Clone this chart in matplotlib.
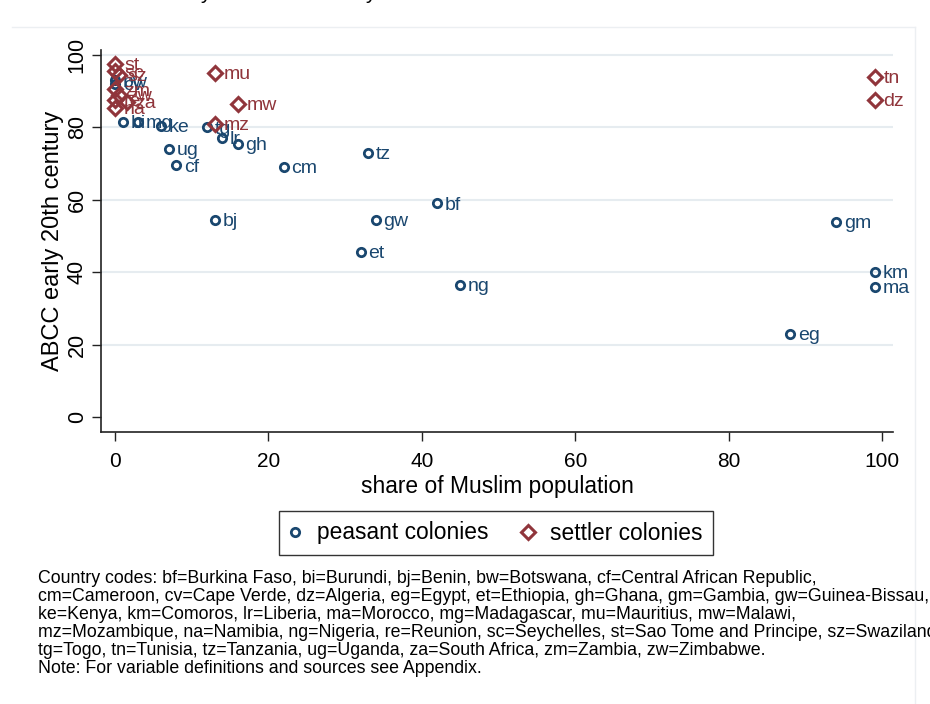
import matplotlib
matplotlib.use('Agg')
import matplotlib.pyplot as plt
from matplotlib.lines import Line2D

plt.rcParams['font.family'] = ['Liberation Sans', 'DejaVu Sans']

# peasant colonies (navy circles)
peasant_code = ['bf', 'gm', 'km', 'ma', 'eg', 'ng', 'et', 'gw', 'tz', 'cm', 'bj', 'gh',
                'lr', 'tg', 'ug', 'cf', 'bi', 'mg', 'ke', 'bw', 'cv']
peasant_muslim = [42, 94, 99, 99, 88, 45, 32, 34, 33, 22, 13, 16,
                  14, 12, 7, 8, 1, 3, 6, 0, 0]
peasant_abcc = [59, 54, 40, 36, 23, 36.5, 45.5, 54.5, 73, 69, 54.5, 75.5,
                77, 80, 74, 69.5, 81.5, 81.5, 80.5, 93, 92]

# settler colonies (maroon diamonds)
settler_code = ['st', 'sc', 'sz', 'zm', 'zw', 're', 'za', 'na', 'mu', 'mw', 'mz', 'tn', 'dz']
settler_muslim = [0, 0, 0.5, 0, 0.5, 0, 1.5, 0, 13, 16, 13, 99, 99]
settler_abcc = [97.5, 95.5, 94.5, 90.5, 89, 87.5, 87, 85.5, 95, 86.5, 81, 94, 87.5]

xticks = [0, 20, 40, 60, 80, 100]
yticks = [0, 20, 40, 60, 80, 100]
gridticks = [20, 40, 60, 80, 100]

navy = '#1a476f'
maroon = '#90353b'

W, H = 930, 704
fig = plt.figure(figsize=(W / 100, H / 100), dpi=100)
# axes box in pixels: left 101, right 893, top 50, bottom 432
ax = fig.add_axes([101 / W, 1 - 432 / H, (893 - 101) / W, (432 - 50) / H])

ax.set_xlim(-1.83, 101.4)
ax.set_ylim(-4.14, 101.4)

for g in gridticks:
    ax.axhline(g, color='#e6ecf0', lw=1.5, zorder=0)

ax.plot(peasant_muslim, peasant_abcc, 'o', ms=6.0, mfc='none', mec=navy, mew=2.0,
        label='peasant colonies', zorder=3)
for c, x, y in zip(peasant_code, peasant_muslim, peasant_abcc):
    ax.annotate(c, (x, y), xytext=(5.5, -1.2), textcoords='offset points',
                ha='left', va='center', color=navy, fontsize=14, zorder=4)

ax.plot(settler_muslim, settler_abcc, 'D', ms=7.2, mfc='none', mec=maroon, mew=2.2,
        label='settler colonies', zorder=5)
for c, x, y in zip(settler_code, settler_muslim, settler_abcc):
    ax.annotate(c, (x, y), xytext=(6.5, -1.2), textcoords='offset points',
                ha='left', va='center', color=maroon, fontsize=14, zorder=6)

for s in ['top', 'right']:
    ax.spines[s].set_visible(False)
for s in ['left', 'bottom']:
    ax.spines[s].set_linewidth(1.2)
    ax.spines[s].set_color('#222222')

ax.set_xticks(xticks)
ax.set_yticks(yticks)
ax.tick_params(axis='both', direction='out', length=6.5, width=1, color='#222222')
ax.tick_params(axis='x', pad=8, labelsize=15)
ax.tick_params(axis='y', pad=3, labelsize=15.5)
for t in ax.get_yticklabels():
    t.set_rotation(90)
    t.set_va('center')

ax.set_xlabel('share of Muslim population', fontsize=16.4)
ax.xaxis.set_label_coords(0.5, -54 / 382)
ax.xaxis.label.set_va('center')
ax.set_ylabel('ABCC early 20th century', fontsize=17)
ax.yaxis.set_label_coords(-48 / 792, 0.5)
ax.yaxis.label.set_va('center')

leg = fig.legend(loc='center', bbox_to_anchor=(496 / W, 1 - 533 / H), ncol=2,
                 fontsize=16.4, frameon=True, fancybox=False, edgecolor='black',
                 handletextpad=0.72, columnspacing=1.5, handlelength=0.5,
                 borderpad=0.45, borderaxespad=0)
leg.get_frame().set_linewidth(1.0)

note = ("Country codes: bf=Burkina Faso, bi=Burundi, bj=Benin, bw=Botswana, cf=Central African Republic,\n"
        "cm=Cameroon, cv=Cape Verde, dz=Algeria, eg=Egypt, et=Ethiopia, gh=Ghana, gm=Gambia, gw=Guinea-Bissau,\n"
        "ke=Kenya, km=Comoros, lr=Liberia, ma=Morocco, mg=Madagascar, mu=Mauritius, mw=Malawi,\n"
        "mz=Mozambique, na=Namibia, ng=Nigeria, re=Reunion, sc=Seychelles, st=Sao Tome and Principe, sz=Swaziland,\n"
        "tg=Togo, tn=Tunisia, tz=Tanzania, ug=Uganda, za=South Africa, zm=Zambia, zw=Zimbabwe.\n"
        "Note: For variable definitions and sources see Appendix.")
fig.text(38 / W, 1 - 570 / H, note, ha='left', va='top', fontsize=12.8,
         linespacing=1.08)

# faint outer graph region border
fig.add_artist(Line2D([12 / W, 915 / W], [1 - 27 / H, 1 - 27 / H], color='#eceff2', lw=1))
fig.add_artist(Line2D([915 / W, 915 / W], [0, 1 - 27 / H], color='#eceff2', lw=1))

# descenders of the cut-off title above the frame
fig.text(205 / W, 1 + 1 / H, 'y', ha='center', va='baseline', fontsize=15)
fig.text(370 / W, 1 + 1 / H, 'y', ha='center', va='baseline', fontsize=15)

fig.savefig('out.png', dpi=100)
